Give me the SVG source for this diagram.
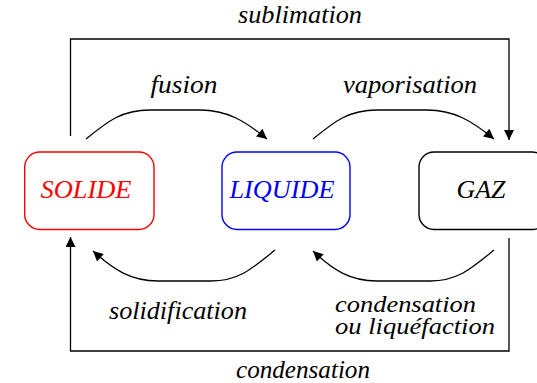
<svg xmlns="http://www.w3.org/2000/svg" width="537" height="383" viewBox="0 0 537 383">
<defs>
<marker id="ah" viewBox="0 0 10 10" refX="10" refY="5" markerWidth="12" markerHeight="10" markerUnits="userSpaceOnUse" orient="auto">
<path d="M0,0 L10,5 L0,10 z" fill="#000"/>
</marker>
<style>
text{font-family:'Liberation Serif','Times New Roman','DejaVu Serif',serif;font-style:italic}
.mid{text-anchor:middle}
.box{fill:#fff;stroke-width:1.4}
.edge{fill:none;stroke:#000;stroke-width:1.3;marker-end:url(#ah)}
</style>
</defs>
<rect width="537" height="383" fill="#fff"/>
<g id="connectors" font-size="25.5">
<path class="edge" d="M70.5,136 L70.5,39 L509,39 L509,140"/>
<path class="edge" d="M86,139 C108,121 122,110 150,110 L200,110 C227,110 245,121 267,139"/>
<path class="edge" d="M313,139 C335,121 349,110 377,110 L427,110 C454,110 472,121 494,139"/>
<path class="edge" d="M275,250 C253,268 239,281 211,281 L158,281 C131,281 114,270 93,251"/>
<path class="edge" d="M494,250 C472,268 458,281 430,281 L377,281 C350,281 333,270 313,251"/>
<path class="edge" d="M509,238 L509,351 L70.5,351 L70.5,237"/>
<text class="mid" x="300" y="23" textLength="124" lengthAdjust="spacingAndGlyphs">sublimation</text>
<text class="mid" x="184" y="93" textLength="67" lengthAdjust="spacingAndGlyphs">fusion</text>
<text class="mid" x="410" y="93" textLength="134" lengthAdjust="spacingAndGlyphs">vaporisation</text>
<text class="mid" x="178" y="319" textLength="138" lengthAdjust="spacingAndGlyphs">solidification</text>
<text x="335" y="312" font-size="24" textLength="141" lengthAdjust="spacingAndGlyphs">condensation</text>
<text x="335" y="334" font-size="24" textLength="160" lengthAdjust="spacingAndGlyphs">ou liquéfaction</text>
<text class="mid" x="303" y="378" textLength="134" lengthAdjust="spacingAndGlyphs">condensation</text>
</g>
<g id="solide" font-size="26">
<rect class="box" x="24.7" y="152" width="129.3" height="77.5" rx="15" stroke="#f00"/>
<text class="mid" x="86" y="198" fill="#f00" textLength="91" lengthAdjust="spacingAndGlyphs">SOLIDE</text>
</g>
<g id="liquide" font-size="26">
<rect class="box" x="222" y="152" width="128" height="77.5" rx="15" stroke="#00f"/>
<text class="mid" x="282" y="198" fill="#00f" textLength="105" lengthAdjust="spacingAndGlyphs">LIQUIDE</text>
</g>
<g id="gaz" font-size="26">
<rect class="box" x="419" y="152" width="128" height="77.5" rx="15" stroke="#000"/>
<text class="mid" x="481" y="198" textLength="49" lengthAdjust="spacingAndGlyphs">GAZ</text>
</g>
</svg>
